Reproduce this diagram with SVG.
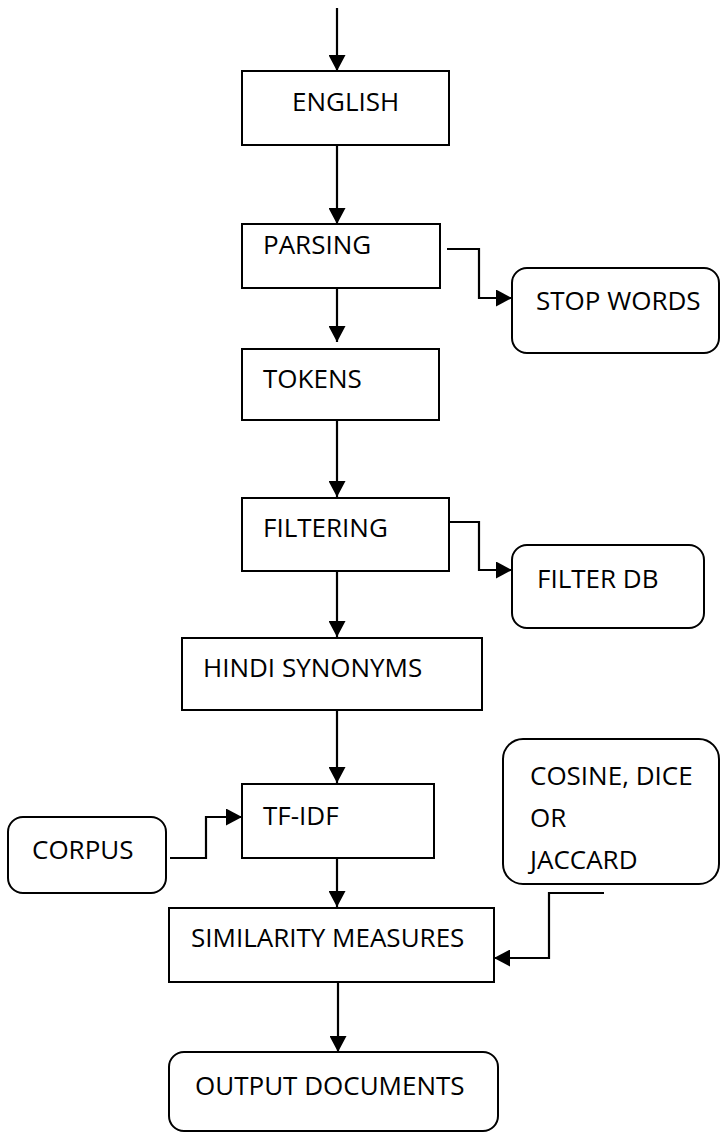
<svg xmlns="http://www.w3.org/2000/svg" width="720" height="1133" viewBox="0 0 720 1133">
<style>
.box{fill:#fff;stroke:#000;stroke-width:2}
.lbl{font-family:"Open Sans","Noto Sans",sans-serif;font-size:26px;fill:#000}
.conn{fill:none;stroke:#000;stroke-width:2.2}
</style>
<defs>
<marker id="ah" markerUnits="userSpaceOnUse" markerWidth="17" markerHeight="17" refX="16" refY="8.5" orient="auto">
<path d="M0,0 L16,8.5 L0,17 Z" fill="#000"/>
</marker>
</defs>
<rect width="720" height="1133" fill="#fff"/>
<g id="connectors">
<path class="conn" d="M337,8 V71" marker-end="url(#ah)"/>
<path class="conn" d="M337,145 V224" marker-end="url(#ah)"/>
<path class="conn" d="M447,249 H479 V298 H512" marker-end="url(#ah)"/>
<path class="conn" d="M337,288 V342" marker-end="url(#ah)"/>
<path class="conn" d="M337,420 V497" marker-end="url(#ah)"/>
<path class="conn" d="M449,522 H479 V570 H512" marker-end="url(#ah)"/>
<path class="conn" d="M337,571 V637" marker-end="url(#ah)"/>
<path class="conn" d="M337,710 V783" marker-end="url(#ah)"/>
<path class="conn" d="M170,858 H206 V817 H242" marker-end="url(#ah)"/>
<path class="conn" d="M337,858 V907" marker-end="url(#ah)"/>
<path class="conn" d="M604,893 H549 V958 H494" marker-end="url(#ah)"/>
<path class="conn" d="M338,982 V1052" marker-end="url(#ah)"/>
</g>
<g id="english"><rect class="box" x="242" y="71" width="207" height="74"/><text class="lbl" x="292" y="111">ENGLISH</text></g>
<g id="parsing"><rect class="box" x="242" y="224" width="198" height="64"/><text class="lbl" x="263" y="254">PARSING</text></g>
<g id="stopwords"><rect class="box" x="512" y="268" width="207" height="85" rx="15"/><text class="lbl" x="536" y="310">STOP WORDS</text></g>
<g id="tokens"><rect class="box" x="242" y="349" width="197" height="71"/><text class="lbl" x="263" y="388">TOKENS</text></g>
<g id="filtering"><rect class="box" x="242" y="498" width="207" height="73"/><text class="lbl" x="263" y="537">FILTERING</text></g>
<g id="filterdb"><rect class="box" x="512" y="545" width="192" height="83" rx="15"/><text class="lbl" x="537" y="588">FILTER DB</text></g>
<g id="hindi"><rect class="box" x="182" y="638" width="300" height="72"/><text class="lbl" x="203" y="677">HINDI SYNONYMS</text></g>
<g id="tfidf"><rect class="box" x="242" y="784" width="192" height="74"/><text class="lbl" x="263" y="825">TF-IDF</text></g>
<g id="corpus"><rect class="box" x="8" y="817" width="158" height="76" rx="15"/><text class="lbl" x="32" y="859">CORPUS</text></g>
<g id="cosine"><rect class="box" x="503" y="739" width="216" height="145" rx="20"/><text class="lbl" x="530" y="785">COSINE, DICE</text><text class="lbl" x="530" y="827">OR</text><text class="lbl" x="530" y="869">JACCARD</text></g>
<g id="similarity"><rect class="box" x="169" y="908" width="325" height="74"/><text class="lbl" x="191" y="947">SIMILARITY MEASURES</text></g>
<g id="output"><rect class="box" x="169" y="1052" width="329" height="79" rx="15"/><text class="lbl" x="195" y="1095">OUTPUT DOCUMENTS</text></g>
</svg>
